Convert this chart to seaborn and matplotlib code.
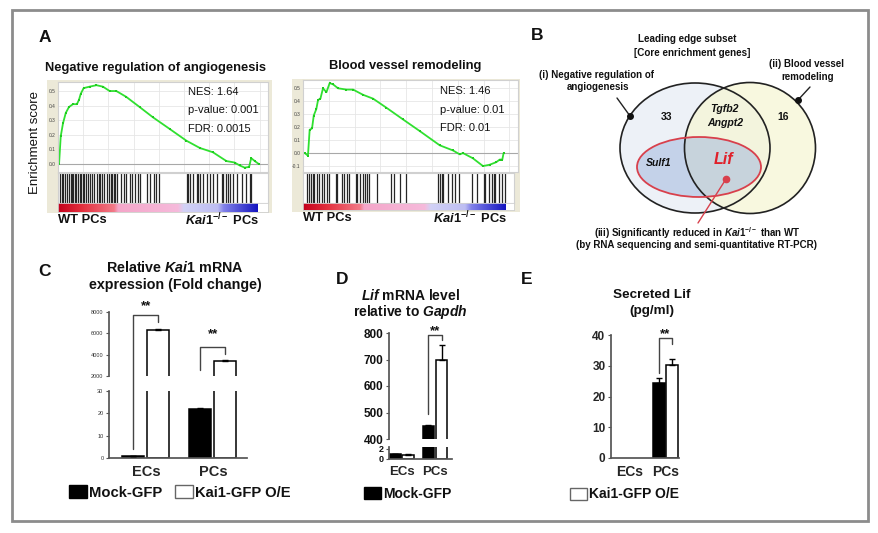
import numpy as np
import pandas as pd
import matplotlib
matplotlib.use("Agg")
import matplotlib.pyplot as plt
import seaborn as sns
from matplotlib.patches import Ellipse, Rectangle, Patch
from matplotlib.colors import LinearSegmentedColormap

# ------------------------------------------------------------------ data
# Panel A - GSEA running enrichment score (x = % of ranked gene list)
neg_angio_rank = [0.5, 1.3, 2.4, 3.7, 5.2, 7.1, 9.0, 10.0, 10.8, 12.2, 15.0, 18.3, 21.4,
                  24.6, 27.8, 32.5, 38.9, 45.2, 53.2, 61.1, 67.5, 73.8, 80.2, 84.1, 86.5,
                  88.9, 91.0, 92.0, 93.7, 95.6]
neg_angio_es = [0.0, 0.19, 0.28, 0.35, 0.39, 0.41, 0.41, 0.44, 0.48, 0.52, 0.53, 0.54, 0.53,
                0.50, 0.50, 0.46, 0.39, 0.32, 0.24, 0.16, 0.11, 0.08, 0.02, 0.01, -0.01,
                -0.025, -0.02, 0.04, 0.02, 0.0]
neg_angio_hits = [0.9, 1.7, 2.5, 3.3, 4.4, 5.2, 6.0, 6.5, 7.3, 7.9, 8.7, 9.6, 10.4, 11.1, 11.8,
                  12.6, 13.4, 14.4, 15.2, 16.3, 17.1, 18.6, 19.4, 20.2, 21.0, 21.8, 23.1, 24.2,
                  25.0, 25.8, 26.5, 27.3, 28.1, 30.2, 31.3, 32.5, 34.4, 35.2, 36.8, 37.9, 39.2,
                  42.3, 43.9, 45.5, 46.8, 47.9, 61.3, 62.1, 62.9, 64.1, 66.0, 66.8, 67.6, 68.9,
                  70.8, 72.4, 73.9, 75.5, 77.9, 78.7, 79.9, 81.0, 81.8, 83.4, 85.0, 87.4, 89.7,
                  91.3, 92.1]
neg_angio_stats = ["NES: 1.64", "p-value: 0.001", "FDR: 0.0015"]

bv_rank = [0.8, 2.3, 3.1, 4.2, 5.0, 6.2, 7.0, 8.1, 9.3, 10.9, 12.4, 14.0, 16.3, 20.2, 23.3,
           27.9, 32.6, 38.8, 46.5, 54.3, 63.6, 69.8, 72.9, 74.4, 79.0, 83.7, 86.8, 89.9,
           91.5, 92.7, 93.3]
bv_es = [0.0, -0.02, 0.18, 0.19, 0.29, 0.34, 0.41, 0.42, 0.50, 0.47, 0.54, 0.53, 0.50, 0.49,
         0.49, 0.45, 0.42, 0.35, 0.26, 0.17, 0.06, 0.02, -0.01, 0.0, -0.04, -0.10, -0.09,
         -0.07, -0.05, -0.05, 0.0]
bv_hits = [1.9, 3.0, 3.8, 4.6, 5.4, 6.4, 7.5, 8.8, 9.9, 11.5, 12.3, 15.5, 16.3, 18.7, 19.5,
           20.7, 21.9, 25.0, 25.8, 27.0, 28.2, 29.3, 30.3, 31.4, 35.1, 41.8, 43.1, 45.8, 49.0,
           64.1, 64.9, 65.7, 66.5, 68.9, 70.5, 72.1, 73.7, 80.1, 82.5, 85.6, 86.4, 88.0, 89.6,
           90.4, 91.2, 92.8, 94.4, 95.7]
bv_stats = ["NES: 1.46", "p-value: 0.01", "FDR: 0.01"]

# Panel B - Venn diagram contents
venn_left_only = "33"
venn_right_only = "16"
venn_shared = ["Tgfb2", "Angpt2"]
venn_reduced_left = "Sulf1"
venn_reduced_shared = "Lif"

# Panels C-E - bar charts
cells = ["ECs", "PCs"]
groups = ["Mock-GFP", "Kai1-GFP O/E"]
kai1_mock = [1.0, 22.0]
kai1_mock_err = [0.1, 0.6]
kai1_oe = [6300.0, 3400.0]
kai1_oe_err = [150.0, 90.0]
lif_mock = [1.0, 450.0]
lif_mock_err = [0.05, 4.0]
lif_oe = [0.9, 697.0]
lif_oe_err = [0.1, 56.0]
sec_mock = [np.nan, 24.5]
sec_mock_err = [np.nan, 1.6]
sec_oe = [np.nan, 30.3]
sec_oe_err = [np.nan, 2.0]

# ------------------------------------------------------------------ style
sns.set_theme(style="ticks")
plt.rcParams["font.family"] = ["Liberation Sans", "DejaVu Sans"]
plt.rcParams["mathtext.fontset"] = "custom"
plt.rcParams["mathtext.rm"] = "Liberation Sans:bold"
plt.rcParams["mathtext.bf"] = "Liberation Sans:bold"
plt.rcParams["mathtext.sf"] = "Liberation Sans:bold"
plt.rcParams["mathtext.it"] = "Liberation Sans:italic:bold"
plt.rcParams["text.color"] = "#111111"

W, H = 879, 533
fig = plt.figure(figsize=(W / 100, H / 100), dpi=100)
fig.patch.set_facecolor("white")


def rect(x0, y0, x1, y1):
    return [x0 / W, 1 - y1 / H, (x1 - x0) / W, (y1 - y0) / H]


back = fig.add_axes([0, 0, 1, 1], zorder=-10)
back.set_xlim(0, W); back.set_ylim(H, 0); back.axis("off")
front = fig.add_axes([0, 0, 1, 1], zorder=10)
front.set_xlim(0, W); front.set_ylim(H, 0); front.axis("off")

back.add_patch(Rectangle((12, 10), 856, 511, fill=False, ec="#8c8c8c", lw=2))

# ------------------------------------------------------------------ panel A
cmap = LinearSegmentedColormap.from_list("gsea", [
    (0.0, "#c4001c"), (0.12, "#e4303e"), (0.28, "#f27a88"), (0.30, "#f4a6c9"),
    (0.60, "#f6badb"), (0.63, "#d2d2f6"), (0.80, "#bdbdf2"), (0.83, "#8282ea"),
    (1.0, "#1414c0")])


def gsea(x0, x1, xb1, y_top, y_es, y_bar, y_cb, ylim, yticks, rank, es, hits, cb_end,
         title, title_x, stats, stats_x, stats_y, beige):
    back.add_patch(Rectangle((beige[0], beige[1]), beige[2] - beige[0], beige[3] - beige[1],
                             fc="#ece9d8", ec="none"))
    ax = fig.add_axes(rect(x0, y_top, x1, y_es))
    ax.set_facecolor("white")
    ax.set_xticks(np.arange(0, 101, 12))
    ax.grid(True, color="#e6e6e6", lw=0.6)
    ax.axhline(0, color="#a8a8a8", lw=0.8)
    sns.lineplot(x=rank, y=es, ax=ax, color="#30e030", lw=1.3, marker="s", markersize=2.0,
                 markeredgewidth=0, markerfacecolor="#20cc20")
    ax.set_xlim(0, 100); ax.set_ylim(*ylim)
    ax.set_yticks(yticks)
    ax.set_yticklabels([f"{t:.1f}" for t in yticks], fontsize=3.5, color="#444444")
    ax.set_xticklabels([])
    ax.tick_params(length=0, pad=2)
    ax.set_xlabel(""); ax.set_ylabel("")
    for s in ax.spines.values():
        s.set_color("#d0d0d0"); s.set_linewidth(0.8)

    bx = fig.add_axes(rect(x0, y_es + 1, xb1, y_bar))
    bx.set_facecolor("white")
    bx.vlines(hits, 0, 1, color="#262626", lw=0.9)
    bx.set_xlim(0, 100); bx.set_ylim(0, 1)
    bx.set_xticks([]); bx.set_yticks([])
    for s in bx.spines.values():
        s.set_color("#d0d0d0"); s.set_linewidth(0.8)

    cx = fig.add_axes(rect(x0, y_bar, xb1, y_cb))
    cx.set_facecolor("white")
    cx.imshow(np.linspace(0, 1, 256)[None, :], extent=(0, cb_end, 0, 1), aspect="auto",
              cmap=cmap)
    cx.set_xlim(0, 100); cx.set_ylim(0, 1)
    cx.set_xticks([]); cx.set_yticks([])
    for s in cx.spines.values():
        s.set_color("#d0d0d0"); s.set_linewidth(0.6)

    front.text(title_x, y_top - 14, title, ha="center", va="center", fontsize=9.3,
               fontweight="bold")
    for s, yy in zip(stats, stats_y):
        front.text(stats_x, yy, s, ha="left", va="center", fontsize=8)
    front.text(x0, y_cb + 8, "WT PCs", ha="left", va="center", fontsize=9.3, fontweight="bold")
    front.text(x0 + (xb1 - x0) * cb_end / 100 + 1, y_cb + 8, r"$\mathit{Kai1}^{-/-}$ PCs",
               ha="right", va="center", fontsize=9.3, fontweight="bold")


gsea(58, 268, 268, 82, 172, 203, 212, (-0.055, 0.562), [0.0, 0.1, 0.2, 0.3, 0.4, 0.5],
     neg_angio_rank, neg_angio_es, neg_angio_hits, 95,
     "Negative regulation of angiogenesis", 156, neg_angio_stats, 188, [92, 110, 129],
     (47, 80, 272, 213))
gsea(303, 518, 514, 80, 172, 203, 210, (-0.146, 0.564),
     [-0.1, 0.0, 0.1, 0.2, 0.3, 0.4, 0.5],
     bv_rank, bv_es, bv_hits, 96,
     "Blood vessel remodeling", 405, bv_stats, 440, [91, 110, 128],
     (292, 79, 520, 212))

front.text(35, 142, "Enrichment score", rotation=90, ha="center", va="center", fontsize=9.5)
front.text(45, 38, "A", ha="center", va="center", fontsize=12.5, fontweight="bold")

# ------------------------------------------------------------------ panel B (Venn)
front.text(537, 35, "B", ha="center", va="center", fontsize=12.5, fontweight="bold")
front.add_patch(Ellipse((695, 148), 150, 130, fc="#edf1f7", ec="none", zorder=1))
front.add_patch(Ellipse((750, 148), 131, 131, fc="#f6f6d2", ec="none", alpha=0.7, zorder=2))
front.add_patch(Ellipse((699, 167), 124, 60, fc="#9db4dc", ec="none", alpha=0.5, zorder=3))
front.add_patch(Ellipse((695, 148), 150, 130, fill=False, ec="#222222", lw=1.2, zorder=4))
front.add_patch(Ellipse((750, 148), 131, 131, fill=False, ec="#222222", lw=1.2, zorder=4))
front.add_patch(Ellipse((699, 167), 124, 60, fill=False, ec="#d8404c", lw=1.3, zorder=5))

front.plot([617, 630], [98, 116], color="#222222", lw=1, zorder=6)
front.plot([630], [116], "o", color="#111111", ms=4, zorder=7)
front.plot([810, 798], [87, 100], color="#222222", lw=1, zorder=6)
front.plot([798], [100], "o", color="#111111", ms=4, zorder=7)
front.plot([726, 698], [179, 223], color="#d8404c", lw=1, zorder=6)
front.plot([726], [179], "o", color="#d8404c", ms=4.5, zorder=7)

vkw = dict(ha="center", va="center", fontweight="bold", zorder=8)
front.text(687, 39, "Leading edge subset", fontsize=7.1, **vkw)
front.text(692, 53, "[Core enrichment genes]", fontsize=7.1, **vkw)
front.text(597, 75, "(i) Negative regulation of", fontsize=7, **vkw)
front.text(598, 87, "angiogenesis", fontsize=7, **vkw)
front.text(807, 64, "(ii) Blood vessel", fontsize=7, **vkw)
front.text(808, 77, "remodeling", fontsize=7, **vkw)
front.text(667, 117, venn_left_only, fontsize=7.5, **vkw)
front.text(783, 117, venn_right_only, fontsize=7.5, **vkw)
front.text(725, 109, venn_shared[0], fontsize=7.6, style="italic", **vkw)
front.text(725, 123, venn_shared[1], fontsize=7.6, style="italic", **vkw)
front.text(659, 163, venn_reduced_left, fontsize=7.6, style="italic", **vkw)
front.text(724, 159, venn_reduced_shared, fontsize=11.5, style="italic", color="#e0202a", **vkw)
front.text(697, 233, r"(iii) Significantly reduced in $\mathit{Kai1}^{-/-}$ than WT",
           fontsize=7, **vkw)
front.text(697, 245, "(by RNA sequencing and semi-quantitative RT-PCR)", fontsize=7, **vkw)

# ------------------------------------------------------------------ panels C-E


def make_df(mock, mock_err, oe, oe_err):
    return pd.DataFrame({
        "cell": cells * 2,
        "group": [groups[0]] * 2 + [groups[1]] * 2,
        "value": list(mock) + list(oe),
        "err": list(mock_err) + list(oe_err),
    })


def draw_bars(ax, df, width, gap, xlim):
    sns.barplot(data=df, x="cell", y="value", hue="group", order=cells, hue_order=groups,
                palette=["black", "white"], edgecolor="black", linewidth=1.1, width=width,
                gap=gap, errorbar=None, saturation=1, ax=ax, legend=False)
    info = {}
    for p in list(ax.patches):
        h = p.get_height()
        if not np.isfinite(h):
            continue
        c = p.get_x() + p.get_width() / 2
        i = int(round(c))
        j = 0 if c < i else 1
        row = df[(df.cell == cells[i]) & (df.group == groups[j])].iloc[0]
        ax.errorbar([c], [h], yerr=[[0], [row.err]], fmt="none", ecolor="black",
                    elinewidth=1, capsize=2.5, capthick=1, zorder=3)
        info[(i, j)] = c
    ax.set_xlim(*xlim)
    ax.set_xlabel(""); ax.set_ylabel("")
    ax.set_facecolor("none")
    return info


def style_upper(ax, ylim, ticks, fs, bold, color):
    ax.set_ylim(*ylim)
    ax.set_yticks(ticks)
    ax.set_yticklabels([f"{t:g}" for t in ticks], fontsize=fs,
                       fontweight="bold" if bold else "normal", color=color)
    ax.set_xticks([])
    sns.despine(ax=ax, bottom=True)
    ax.spines["left"].set_color("#555555")
    ax.tick_params(axis="y", length=2.5, width=0.8, pad=1.5, color="#555555")


def style_lower(ax, ylim, ticks, fs, bold, color, xfs):
    ax.set_ylim(*ylim)
    ax.set_yticks(ticks)
    ax.set_yticklabels([f"{t:g}" for t in ticks], fontsize=fs,
                       fontweight="bold" if bold else "normal", color=color)
    ax.set_xticks(range(len(cells)))
    ax.set_xticklabels(cells, fontsize=xfs, fontweight="bold")
    sns.despine(ax=ax)
    ax.spines["left"].set_color("#555555")
    ax.spines["bottom"].set_color("#555555")
    ax.tick_params(axis="y", length=2.5, width=0.8, pad=1.5, color="#555555")
    ax.tick_params(axis="x", length=0, pad=5)


def to_front(ax, x, y):
    return front.transData.inverted().transform(ax.transData.transform((x, y)))


def bracket(ax_a, xa, ya0, ax_b, ytop, xb, yb0, star_off):
    p0 = to_front(ax_a, xa, ya0)
    p1 = to_front(ax_b, xa, ytop)
    p2 = to_front(ax_b, xb, ytop)
    p3 = to_front(ax_b, xb, yb0)
    front.plot([p0[0], p1[0], p2[0], p3[0]], [p0[1], p1[1], p2[1], p3[1]],
               color="#444444", lw=1)
    front.text((p1[0] + p2[0]) / 2, p1[1] - star_off, "**", ha="center", va="center",
               fontsize=9.5, fontweight="bold")


# C
dfC = make_df(kai1_mock, kai1_mock_err, kai1_oe, kai1_oe_err)
c_up = fig.add_axes(rect(109, 312, 247, 376))
c_lo = fig.add_axes(rect(109, 391, 247, 458))
infoC = draw_bars(c_up, dfC, 0.75, 0.125, (-0.55, 1.51))
draw_bars(c_lo, dfC, 0.75, 0.125, (-0.55, 1.51))
style_upper(c_up, (2000, 8000), [2000, 4000, 6000, 8000], 4, False, "#333333")
style_lower(c_lo, (0, 30), [0, 10, 20, 30], 4, False, "#333333", 10.5)
bracket(c_lo, infoC[(0, 0)], 4.2, c_up, 7750, infoC[(0, 1)], 7060, 8)
bracket(c_up, infoC[(1, 0)], 2530, c_up, 4720, infoC[(1, 1)], 4030, 13)
front.text(45, 272, "C", ha="center", va="center", fontsize=12.5, fontweight="bold")
front.text(175, 267, r"Relative $\mathit{Kai1}$ mRNA", ha="center", va="center",
           fontsize=10.3, fontweight="bold")
front.text(175, 285, "expression (Fold change)", ha="center", va="center",
           fontsize=10.3, fontweight="bold")

# D
dfD = make_df(lif_mock, lif_mock_err, lif_oe, lif_oe_err)
d_up = fig.add_axes(rect(389, 333, 452, 439))
d_lo = fig.add_axes(rect(389, 447, 452, 459))
infoD = draw_bars(d_up, dfD, 0.78, 0.15, (-0.373, 1.508))
draw_bars(d_lo, dfD, 0.78, 0.15, (-0.373, 1.508))
style_upper(d_up, (400, 800), [400, 500, 600, 700, 800], 8.5, True, "#111111")
style_lower(d_lo, (0, 2.4), [0, 2], 6.5, True, "#111111", 9.5)
bracket(d_up, infoD[(1, 0)], 495, d_up, 793, infoD[(1, 1)], 773, 4)
front.text(342, 280, "D", ha="center", va="center", fontsize=12.5, fontweight="bold")
front.text(410, 296, r"$\mathit{Lif}$ mRNA level", ha="center", va="center",
           fontsize=10, fontweight="bold")
front.text(410, 312, r"relative to $\mathit{Gapdh}$", ha="center", va="center",
           fontsize=10, fontweight="bold")

# E
dfE = make_df(sec_mock, sec_mock_err, sec_oe, sec_oe_err)
e_ax = fig.add_axes(rect(611, 335, 679, 458))
infoE = draw_bars(e_ax, dfE, 0.72, 0.11, (-0.514, 1.375))
e_ax.set_ylim(0, 40)
e_ax.set_yticks([0, 10, 20, 30, 40])
e_ax.set_yticklabels(["0", "10", "20", "30", "40"], fontsize=8.5, fontweight="bold")
e_ax.set_xticks(range(len(cells)))
e_ax.set_xticklabels(cells, fontsize=10, fontweight="bold")
sns.despine(ax=e_ax)
e_ax.spines["left"].set_color("#555555")
e_ax.spines["bottom"].set_color("#555555")
e_ax.tick_params(axis="y", length=2.5, width=0.8, pad=1.5, color="#555555")
e_ax.tick_params(axis="x", length=0, pad=5)
bracket(e_ax, infoE[(1, 0)], 27.6, e_ax, 39, infoE[(1, 1)], 37, 4)
front.text(527, 280, "E", ha="center", va="center", fontsize=12.5, fontweight="bold")
front.text(652, 295, "Secreted Lif", ha="center", va="center", fontsize=9.7, fontweight="bold")
front.text(652, 311, "(pg/ml)", ha="center", va="center", fontsize=9.7, fontweight="bold")

# legends
h_mock = Patch(facecolor="black", edgecolor="black", lw=1)
h_oe = Patch(facecolor="white", edgecolor="#666666", lw=1)


def legend(handles, labels, x, y, size, ncol=1):
    fig.legend(handles, labels, ncol=ncol, loc="center left", frameon=False, borderpad=0,
               borderaxespad=0, handlelength=1.2, handleheight=1.0, handletextpad=0.15,
               columnspacing=0.9, prop={"weight": "bold", "size": size},
               bbox_to_anchor=(x / W, 1 - y / H), bbox_transform=fig.transFigure)


legend([h_mock, h_oe], groups, 69, 492.5, 10.6, ncol=2)
legend([h_mock], groups[:1], 364, 493.5, 10)
legend([h_oe], groups[1:], 570, 494.5, 10)

fig.savefig("out.png", dpi=100)
